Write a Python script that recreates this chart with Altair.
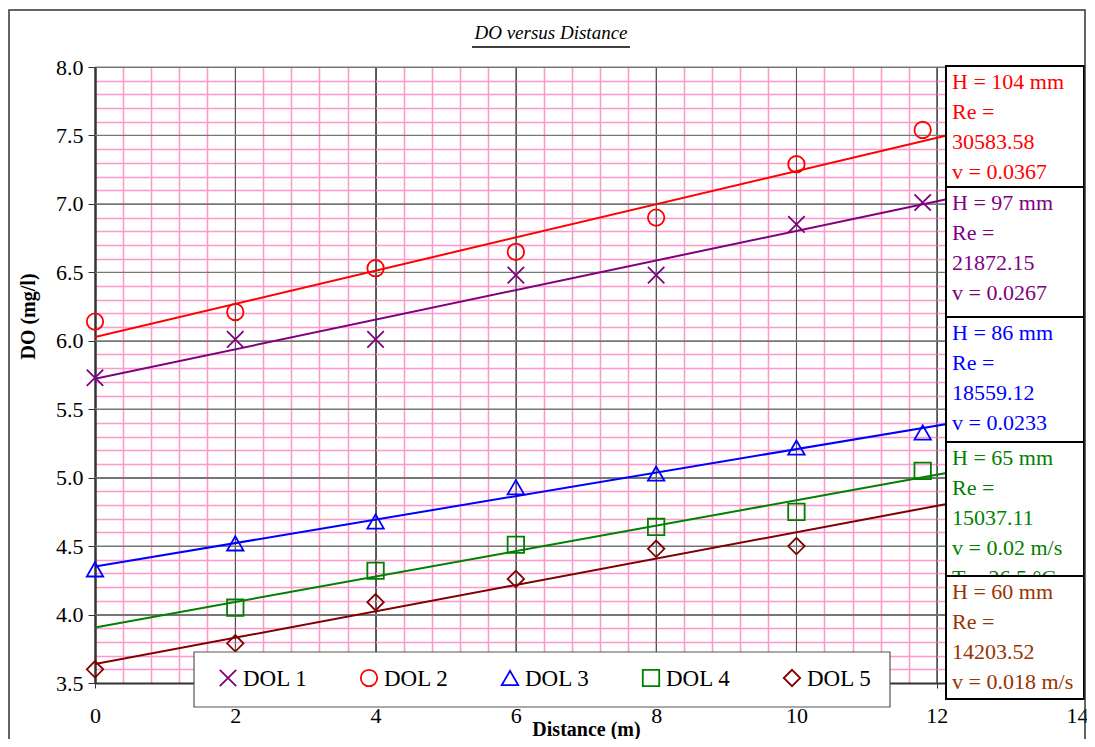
import altair as alt
import pandas as pd

# ---------------- data ----------------
distance = [0, 2, 4, 6, 8, 10, 11.8]
dol1 = [5.73, 6.01, 6.01, 6.48, 6.48, 6.85, 7.01]
dol2 = [6.14, 6.21, 6.53, 6.65, 6.90, 7.29, 7.54]
dol3 = [4.33, 4.52, 4.68, 4.93, 5.03, 5.22, 5.33]
dol4 = [None, 4.05, 4.32, 4.51, 4.64, 4.75, 5.05]
dol5 = [3.60, 3.79, 4.09, 4.26, 4.48, 4.50, None]
series_names = ["DOL 1", "DOL 2", "DOL 3", "DOL 4", "DOL 5"]
series_colors = ["#800080", "#ff0000", "#0000ff", "#008000", "#800000"]
series_shapes = ["M-1,-1L1,1M-1,1L1,-1", "circle", "triangle-up", "square", "diamond"]

# text boxes (the last line of box 2 and box 4 is partly hidden by the next box)
box_texts = [
    ["H = 104 mm", "Re =", "30583.58", "v = 0.0367"],
    ["H = 97 mm", "Re =", "21872.15", "v = 0.0267", "m/s"],
    ["H = 86 mm", "Re =", "18559.12", "v = 0.0233"],
    ["H = 65 mm", "Re =", "15037.11", "v = 0.02 m/s", "T = 26.5 °C"],
    ["H = 60 mm", "Re =", "14203.52", "v = 0.018 m/s"],
]
box_colors = ["#ff0000", "#800080", "#0000ff", "#008000", "#993300"]

title_text = "DO versus Distance"
x_title = "Distance (m)"
y_title = "DO (mg/l)"

rows = []
for name, vals in zip(series_names, [dol1, dol2, dol3, dol4, dol5]):
    for d, v in zip(distance, vals):
        if v is not None:
            rows.append({"distance": d, "do": v, "series": name})
df = pd.DataFrame(rows)

FONT = "Liberation Serif"

# grid positions (minor every 0.4 / 0.1, major every 2 / 0.5)
x_vals = [round(i * 0.4, 1) for i in range(36)]
y_vals = [round(3.5 + i * 0.1, 1) for i in range(46)]
x_major_vals = [2, 4, 6, 8, 10, 12, 14]
y_major_vals = [4.0, 4.5, 5.0, 5.5, 6.0, 6.5, 7.0, 7.5, 8.0]
x_major = "abs(datum.value/2 - round(datum.value/2)) < 0.01"
y_major = "abs(datum.value*2 - round(datum.value*2)) < 0.01"

x_axis = alt.Axis(
    values=x_vals, title=x_title, format=".0f",
    labelExpr=f"{x_major} ? datum.label : ''",
    labelOverlap=False, labelFlush=False,
    labelFont=FONT, labelFontSize=22, labelColor="black", labelPadding=17,
    gridColor={"condition": {"test": x_major, "value": "#555555"}, "value": "#ff99cc"},
    gridWidth={"condition": {"test": x_major, "value": 1.0}, "value": 1.6},
    tickColor={"condition": {"test": x_major, "value": "#333333"}, "value": "transparent"},
    tickSize=5, domainColor="#333333", domainWidth=2,
    titleFont=FONT, titleFontSize=20, titleFontWeight="bold", titleColor="black",
    titleY=46, titleBaseline="middle",
)
y_axis = alt.Axis(
    values=y_vals, title=y_title, format=".1f",
    labelExpr=f"{y_major} ? datum.label : ''",
    labelOverlap=False, labelFlush=False,
    labelFont=FONT, labelFontSize=22, labelColor="black", labelPadding=5,
    gridColor={"condition": {"test": y_major, "value": "#777777"}, "value": "#ff99cc"},
    gridWidth={"condition": {"test": y_major, "value": 1.2}, "value": 1.6},
    tickColor={"condition": {"test": y_major, "value": "#333333"}, "value": "transparent"},
    tickSize=7, domainColor="#333333", domainWidth=2.5,
    titleFont=FONT, titleFontSize=20, titleFontWeight="bold", titleColor="black",
    titleX=-67, titleY=249, titleAngle=-90, titleAlign="center", titleBaseline="middle",
)

x_enc = alt.X("distance:Q", scale=alt.Scale(domain=[0, 14], nice=False, zero=False), axis=x_axis)
y_enc = alt.Y("do:Q", scale=alt.Scale(domain=[3.5, 8.0], nice=False, zero=False), axis=y_axis)
color_scale = alt.Scale(domain=series_names, range=series_colors)
shape_scale = alt.Scale(domain=series_names, range=series_shapes)

# major grid lines drawn over the pink minor grid
vgrid = alt.Chart(pd.DataFrame({"distance": x_major_vals})).mark_rule(
    color="#555555", strokeWidth=1.0
).encode(x=x_enc)
hgrid = alt.Chart(pd.DataFrame({"do": y_major_vals})).mark_rule(
    color="#777777", strokeWidth=1.2
).encode(y=y_enc)

base = alt.Chart(df)

lines = base.transform_regression(
    "distance", "do", groupby=["series"], extent=[0, 13]
).mark_line(strokeWidth=2, clip=True).encode(
    x=x_enc, y=y_enc,
    stroke=alt.Stroke("series:N", scale=color_scale, legend=None),
)

points = base.mark_point(filled=False, size=270, strokeWidth=1.8, opacity=1).encode(
    x=x_enc, y=y_enc,
    color=alt.Color("series:N", scale=color_scale, legend=None),
    shape=alt.Shape("series:N", scale=shape_scale, legend=None),
)

one = pd.DataFrame({"k": [0]})

# legend (drawn as a boxed row of symbols and labels)
legend_layers = [
    alt.Chart(one).mark_rect(fill="white", stroke="#555555", strokeWidth=1.2).encode(
        x=alt.value(99), x2=alt.value(795), y=alt.value(585), y2=alt.value(640)
    )
]
for i, (name, col, shp) in enumerate(zip(series_names, series_colors, series_shapes)):
    sx = 133 + 141 * i
    legend_layers.append(
        alt.Chart(one).mark_point(
            filled=False, size=270, strokeWidth=1.8, opacity=1, shape=shp, color=col
        ).encode(x=alt.value(sx), y=alt.value(611))
    )
    legend_layers.append(
        alt.Chart(one).mark_text(
            align="left", baseline="middle", font=FONT, fontSize=23, color="black"
        ).encode(x=alt.value(sx + 15), y=alt.value(612), text=alt.value(name))
    )

# annotation text boxes on the right
box_tops = [-1, 120, 250, 375, 509]
box_bottoms = [120, 250, 375, 509, 632]
box_layers = []
for txt, col, top, bot in zip(box_texts, box_colors, box_tops, box_bottoms):
    r = alt.Chart(one).mark_rect(fill="white", stroke="black", strokeWidth=2).encode(
        x=alt.value(851), x2=alt.value(989), y=alt.value(top), y2=alt.value(bot)
    )
    t = alt.Chart(one).mark_text(
        align="left", baseline="middle", font=FONT, fontSize=22, color=col, lineHeight=30
    ).encode(x=alt.value(857), y=alt.value(top + 16), text=alt.value(txt))
    box_layers += [r, t]

# title with underline
title = alt.Chart(one).mark_text(
    font=FONT, fontSize=19, fontStyle="italic", color="black", align="center", baseline="middle"
).encode(x=alt.value(456), y=alt.value(-34), text=alt.value(title_text))
underline = alt.Chart(one).mark_rule(color="black", strokeWidth=1.5).encode(
    x=alt.value(377), x2=alt.value(535), y=alt.value(-20)
)

outer = alt.Chart(one).mark_rect(fill=None, stroke="#333333", strokeWidth=1.5).encode(
    x=alt.value(-86), x2=alt.value(990), y=alt.value(-57), y2=alt.value(720)
)

chart = alt.layer(
    vgrid, hgrid, lines, points, *legend_layers, *box_layers, title, underline, outer
).properties(
    width=982, height=616,
    padding={"left": 87, "top": 59, "right": 10, "bottom": 56},
    autosize=alt.AutoSizeParams(type="none"),
    background="white",
).configure_view(stroke=None)

chart.save("out.html", embed_options={"renderer": "svg", "actions": False})
